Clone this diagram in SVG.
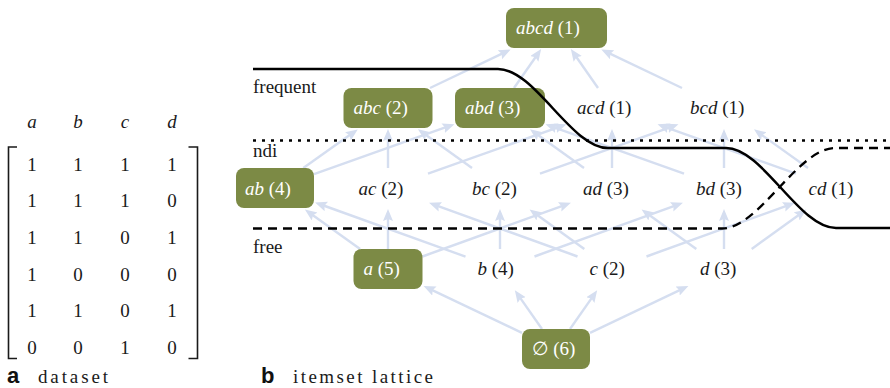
<svg xmlns="http://www.w3.org/2000/svg" width="890" height="388" viewBox="0 0 890 388" font-family="Liberation Serif, DejaVu Serif, serif">
<style>
.bg{fill:#ffffff}
.box{fill:#7c8a45}
.t{font-size:19px;fill:#1a1a1a}
.tw{font-size:19px;fill:#ffffff}
.i{font-style:italic}
.m{font-size:19px;fill:#1a1a1a;text-anchor:middle}
.e line{stroke:#d5def0;stroke-width:2.4;marker-end:url(#arr)}
.br{fill:none;stroke:#1a1a1a;stroke-width:1.6}
.lab{font-weight:bold;font-size:22px;fill:#111}
.cap{font-size:19px;fill:#1a1a1a}
.solid{fill:none;stroke:#000;stroke-width:2.5}
.dash{fill:none;stroke:#000;stroke-width:2.3;stroke-dasharray:9 6}
.dot{fill:none;stroke:#000;stroke-width:2.5;stroke-dasharray:3 6}
</style>
<defs>
<marker id="arr" markerUnits="userSpaceOnUse" markerWidth="13" markerHeight="11" refX="3" refY="5" orient="auto">
<path d="M0,0 L12,5 L0,10 L2,5 Z" fill="#d5def0"/>
</marker>
</defs>
<rect class="bg" x="0" y="0" width="890" height="388"/>

<!-- panel a: dataset -->
<g id="dataset">
<path class="br" d="M17,147 H8.5 V358.5 H17"/>
<path class="br" d="M188.5,147 H197.5 V358.5 H188.5"/>
<g class="m">
<text class="i" x="32" y="128">a</text><text class="i" x="78" y="128">b</text><text class="i" x="125" y="128">c</text><text class="i" x="172" y="128">d</text>
<text x="32" y="170.5">1</text><text x="78" y="170.5">1</text><text x="125" y="170.5">1</text><text x="172" y="170.5">1</text>
<text x="32" y="207">1</text><text x="78" y="207">1</text><text x="125" y="207">1</text><text x="172" y="207">0</text>
<text x="32" y="243.5">1</text><text x="78" y="243.5">1</text><text x="125" y="243.5">0</text><text x="172" y="243.5">1</text>
<text x="32" y="280.5">1</text><text x="78" y="280.5">0</text><text x="125" y="280.5">0</text><text x="172" y="280.5">0</text>
<text x="32" y="317">1</text><text x="78" y="317">1</text><text x="125" y="317">0</text><text x="172" y="317">1</text>
<text x="32" y="353.5">0</text><text x="78" y="353.5">0</text><text x="125" y="353.5">1</text><text x="172" y="353.5">0</text>
</g>
<text class="lab" font-family="Liberation Sans, Arial, sans-serif" x="7" y="383">a</text>
<text class="cap" x="38" y="383" textLength="70" lengthAdjust="spacing">dataset</text>
</g>

<!-- connectors -->
<g id="connectors" class="e">
<line x1="522" y1="332.8" x2="431.7" y2="289.8"/>
<line x1="542" y1="329" x2="520" y2="297.6"/>
<line x1="570" y1="329" x2="592" y2="297.6"/>
<line x1="590" y1="332.8" x2="680.3" y2="289.8"/>

<line x1="360.1" y1="249" x2="312.2" y2="214.7"/>
<line x1="388" y1="249" x2="388" y2="218"/>
<line x1="422.5" y1="256.5" x2="562.5" y2="205.9"/>
<line x1="465.5" y1="256.6" x2="323.5" y2="205.5"/>
<line x1="500" y1="249" x2="500" y2="218"/>
<line x1="534.5" y1="256.5" x2="674.5" y2="205.9"/>
<line x1="577.5" y1="256.5" x2="437.5" y2="205.9"/>
<line x1="584.3" y1="249" x2="536.9" y2="214.7"/>
<line x1="646.5" y1="256.5" x2="786.5" y2="205.9"/>
<line x1="696.3" y1="249" x2="648.9" y2="214.7"/>
<line x1="724" y1="249" x2="724" y2="218"/>
<line x1="751.7" y1="249" x2="799.1" y2="214.7"/>

<line x1="303.3" y1="168" x2="350.4" y2="134.6"/>
<line x1="314" y1="174.1" x2="446" y2="127.2"/>
<line x1="388" y1="168" x2="388" y2="138"/>
<line x1="428" y1="173.7" x2="558" y2="127.3"/>
<line x1="472" y1="168" x2="425.3" y2="134.6"/>
<line x1="540" y1="173.7" x2="670" y2="127.3"/>
<line x1="584" y1="168" x2="537.3" y2="134.6"/>
<line x1="612" y1="168" x2="612" y2="138"/>
<line x1="684" y1="173.7" x2="554" y2="127.3"/>
<line x1="724" y1="168" x2="724" y2="138"/>
<line x1="796" y1="173.7" x2="666" y2="127.3"/>
<line x1="808" y1="168" x2="761.3" y2="134.6"/>

<line x1="430" y1="88" x2="502.6" y2="53.4"/>
<line x1="514" y1="88" x2="536" y2="56.5"/>
<line x1="598" y1="88" x2="576" y2="56.5"/>
<line x1="682" y1="88" x2="609.4" y2="53.4"/>
</g>

<!-- nodes -->
<g id="n-abcd"><rect class="box" x="506" y="8" width="101" height="40" rx="8"/><text class="tw" x="516" y="34"><tspan class="i">abcd</tspan> (1)</text></g>
<g id="n-abc"><rect class="box" x="343.5" y="88" width="89" height="40" rx="8"/><text class="tw" x="353.5" y="114"><tspan class="i">abc</tspan> (2)</text></g>
<g id="n-abd"><rect class="box" x="455" y="88" width="90" height="40" rx="8"/><text class="tw" x="465" y="114"><tspan class="i">abd</tspan> (3)</text></g>
<g id="n-acd"><text class="t" x="577" y="114"><tspan class="i">acd</tspan> (1)</text></g>
<g id="n-bcd"><text class="t" x="690" y="114"><tspan class="i">bcd</tspan> (1)</text></g>
<g id="n-ab"><rect class="box" x="236" y="168" width="78" height="40" rx="8"/><text class="tw" x="245" y="194.5"><tspan class="i">ab</tspan> (4)</text></g>
<g id="n-ac"><text class="t" x="358.5" y="194.5"><tspan class="i">ac</tspan> (2)</text></g>
<g id="n-bc"><text class="t" x="472" y="194.5"><tspan class="i">bc</tspan> (2)</text></g>
<g id="n-ad"><text class="t" x="583" y="194.5"><tspan class="i">ad</tspan> (3)</text></g>
<g id="n-bd"><text class="t" x="696" y="194.5"><tspan class="i">bd</tspan> (3)</text></g>
<g id="n-cd"><text class="t" x="808.5" y="194.5"><tspan class="i">cd</tspan> (1)</text></g>
<g id="n-a"><rect class="box" x="353.5" y="249" width="69" height="40" rx="8"/><text class="tw" x="363.5" y="275"><tspan class="i">a</tspan> (5)</text></g>
<g id="n-b"><text class="t" x="477.5" y="275"><tspan class="i">b</tspan> (4)</text></g>
<g id="n-c"><text class="t" x="589.5" y="275"><tspan class="i">c</tspan> (2)</text></g>
<g id="n-d"><text class="t" x="700" y="275"><tspan class="i">d</tspan> (3)</text></g>
<g id="n-empty"><rect class="box" x="522" y="329" width="68" height="40" rx="8"/><text class="tw" x="531.5" y="355">∅ (6)</text></g>

<!-- border lines -->
<g id="borders">
<path class="dot" d="M253,140.5 H890"/>
<path class="dash" d="M253,228.5 H722 C759,228.5 798,148 835,148 H890"/>
<path class="solid" d="M253,69 H498 C535,69 571,148 608,148 H726 C763,148 799,228 836,228 H890"/>
<text class="t" x="253" y="93">frequent</text>
<text class="t" x="253" y="157">ndi</text>
<text class="t" x="253" y="253">free</text>
</g>

<text class="lab" font-family="Liberation Sans, Arial, sans-serif" x="261" y="383">b</text>
<text class="cap" x="293" y="383" textLength="140" lengthAdjust="spacing">itemset lattice</text>
</svg>
